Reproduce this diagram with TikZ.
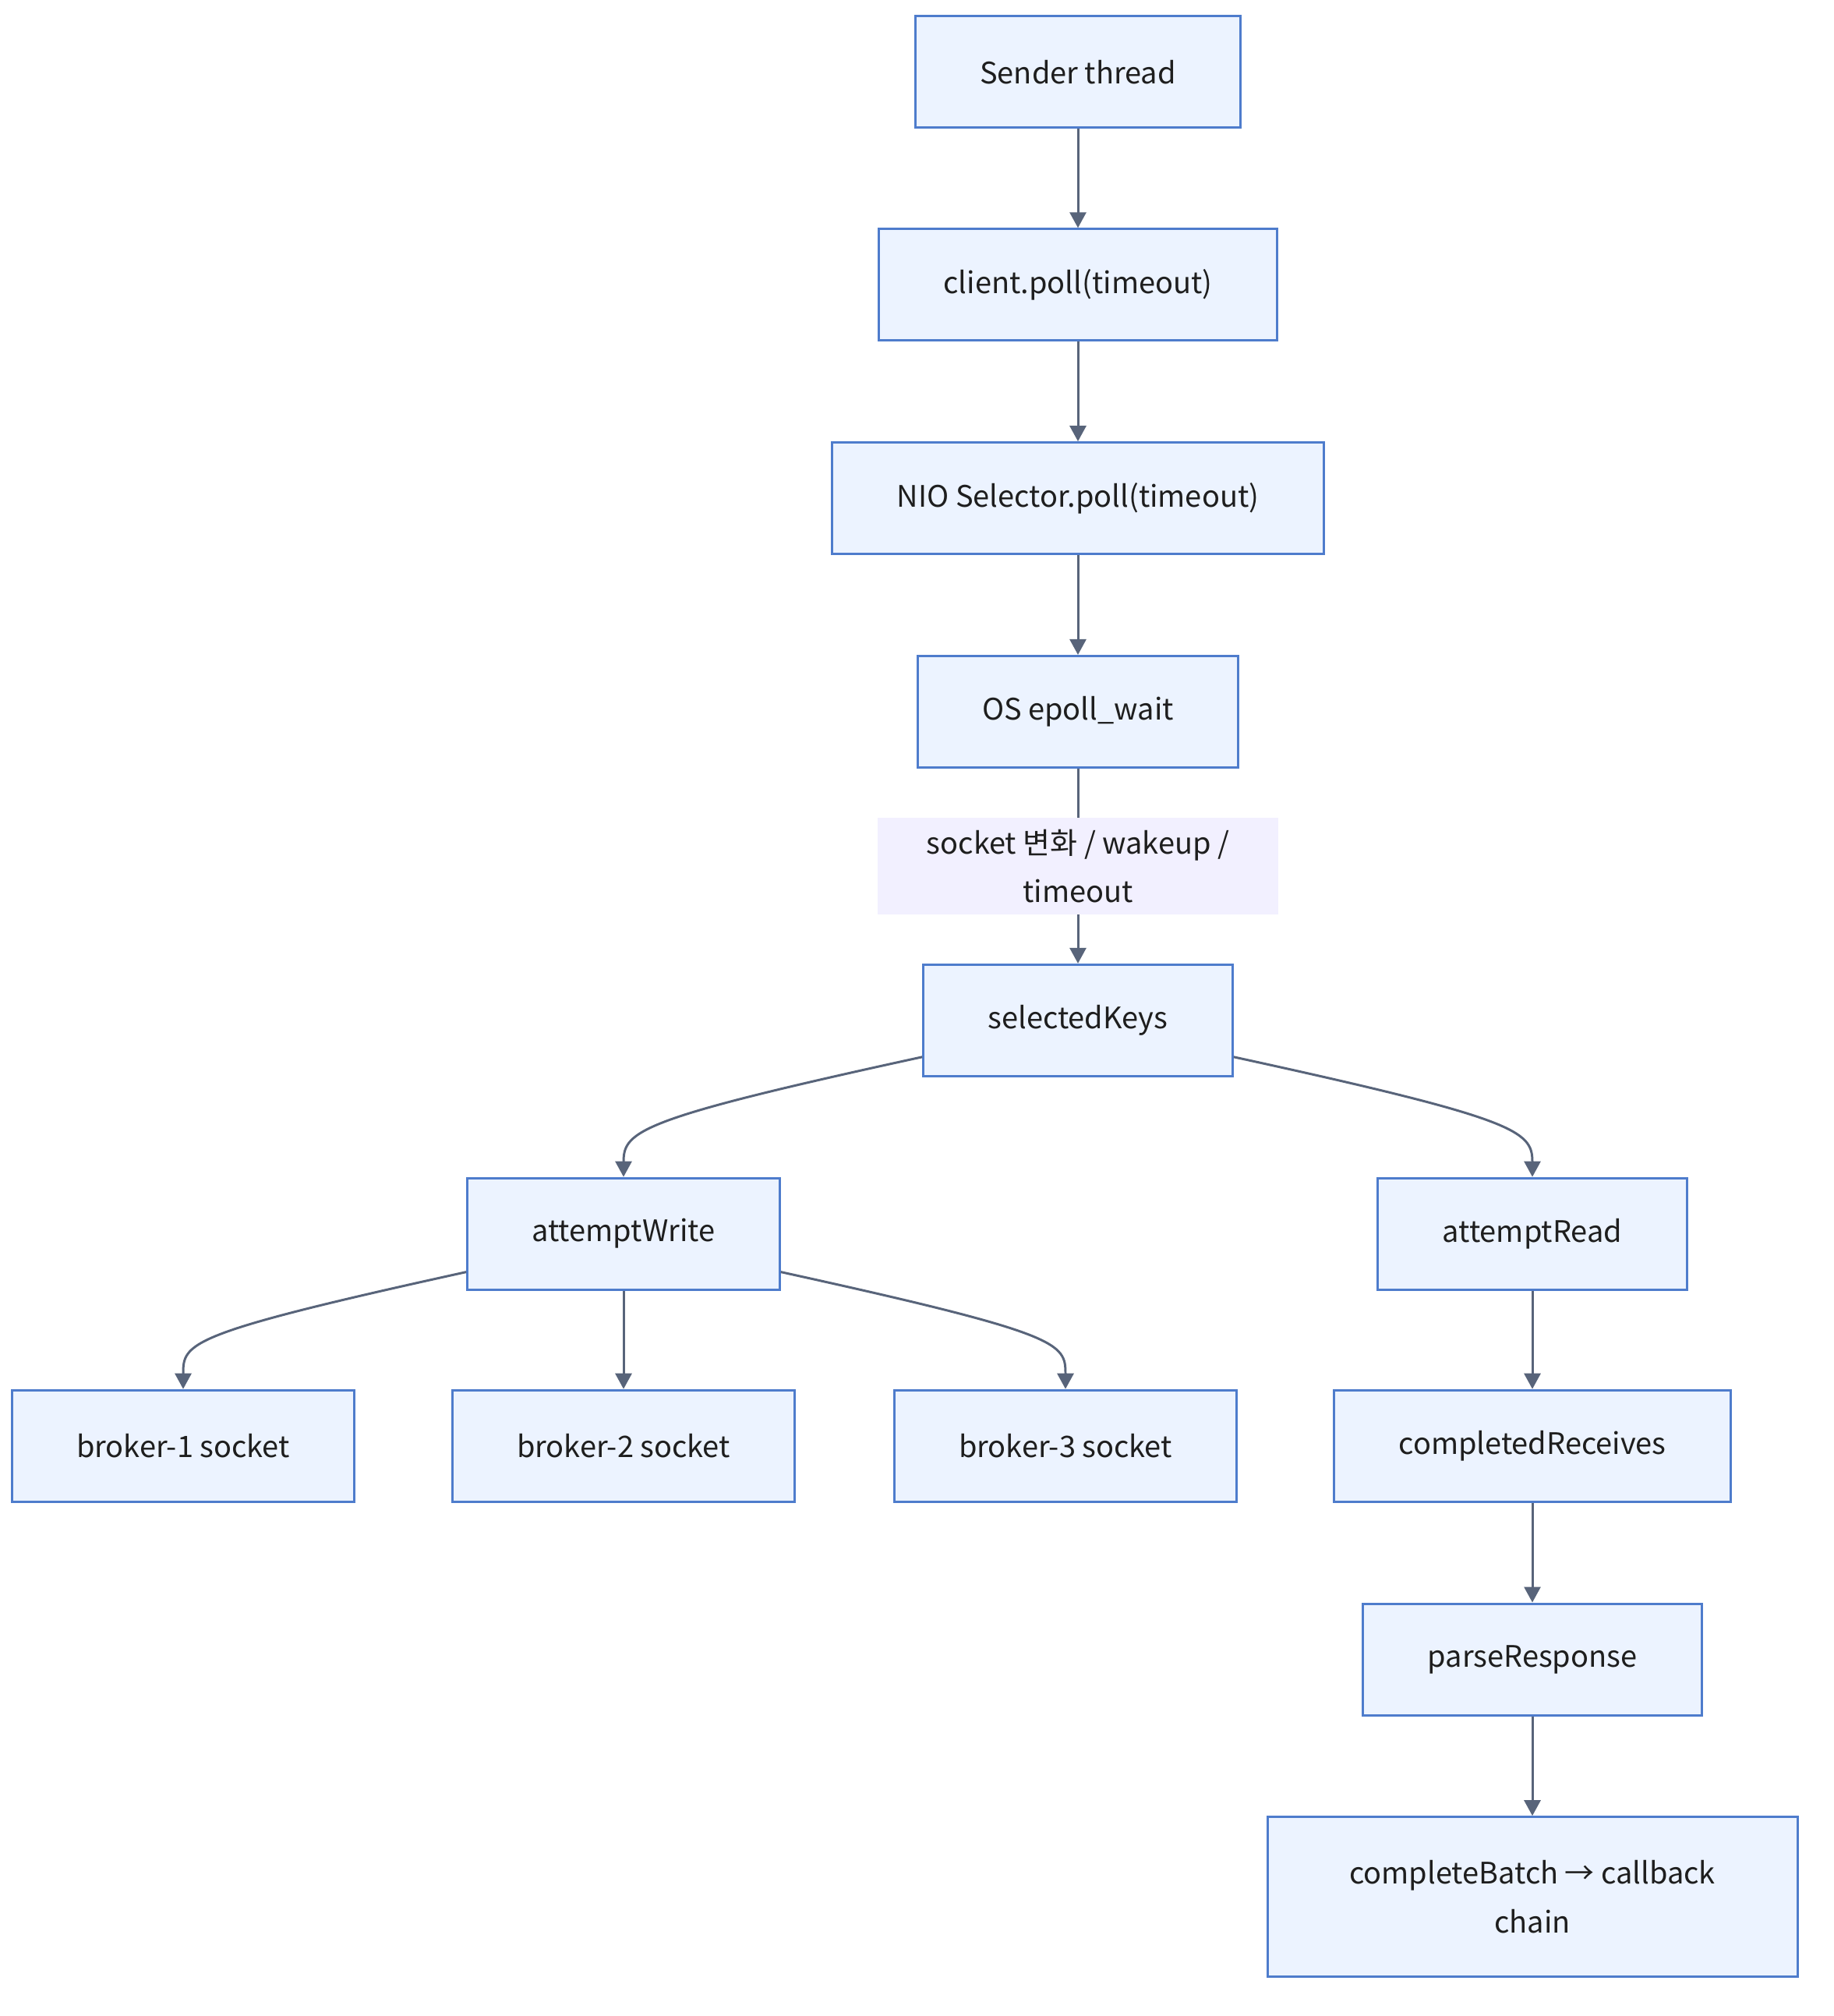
\documentclass[tikz,border=0pt]{standalone}
\usepackage{fontspec}
\setmainfont{Noto Sans CJK KR}
\usepackage{tikz}
\usetikzlibrary{arrows.meta,positioning}
\definecolor{boxfill}{RGB}{236,243,255}
\definecolor{boxline}{RGB}{78,124,204}
\definecolor{linkgray}{RGB}{88,100,122}
\definecolor{lblfill}{RGB}{242,240,255}
\definecolor{txt}{RGB}{30,30,30}

\begin{document}
\begin{tikzpicture}[
    font=\fontsize{10.8}{17.8}\selectfont, text=txt,
    box/.style={draw=boxline, fill=boxfill, line width=0.85pt, minimum height=1.43cm,
      inner xsep=0.83cm, align=center},
    link/.style={draw=linkgray, line width=0.85pt, -{Triangle[length=0.2cm,width=0.21cm]}},
    elabel/.style={fill=lblfill, inner xsep=0.63cm, minimum height=1.237cm, align=center}]
  \useasboundingbox (0,0) rectangle (23.52,-25.86);
  \node[box] (snd) at (13.83,-0.924) {Sender thread};
  \node[box] (pol) at (13.83,-3.653) {client.poll(timeout)};
  \node[box] (nio) at (13.83,-6.391) {NIO Selector.poll(timeout)};
  \node[box] (ep) at (13.83,-9.129) {OS epoll\_wait};
  \node[box] (sk) at (13.83,-13.088) {selectedKeys};
  \node[box] (aw) at (8.00,-15.826) {attemptWrite};
  \node[box] (ar) at (19.66,-15.826) {attemptRead};
  \node[box] (b1) at (2.35,-18.547) {broker-1 socket};
  \node[box] (b2) at (8.00,-18.547) {broker-2 socket};
  \node[box] (b3) at (13.67,-18.547) {broker-3 socket};
  \node[box] (cr) at (19.66,-18.547) {completedReceives};
  \node[box] (pr) at (19.66,-21.285) {parseResponse};
  \node[box, minimum height=2.045cm, minimum width=6.8cm] (cb) at (19.66,-24.329) {completeBatch → callback\\chain};

  \foreach \a/\b in {snd/pol,pol/nio,nio/ep,aw/b2,ar/cr,cr/pr,pr/cb}
    \draw[link] (\a) -- (\b);
  \draw[link] (ep) -- node[elabel] (lbl) {socket 변화 / wakeup /\\timeout} (sk);

  \draw[link] ([yshift=-0.47cm]sk.west) .. controls +(-3.63,-0.79) and +(0,0.59) .. (aw.north);
  \draw[link] ([yshift=-0.47cm]sk.east) .. controls +(3.63,-0.79) and +(0,0.59) .. (ar.north);
  \draw[link] ([yshift=-0.49cm]aw.west) .. controls +(-3.6,-0.79) and +(0,0.59) .. (b1.north);
  \draw[link] ([yshift=-0.49cm]aw.east) .. controls +(3.6,-0.79) and +(0,0.59) .. (b3.north);
\end{tikzpicture}
\end{document}
